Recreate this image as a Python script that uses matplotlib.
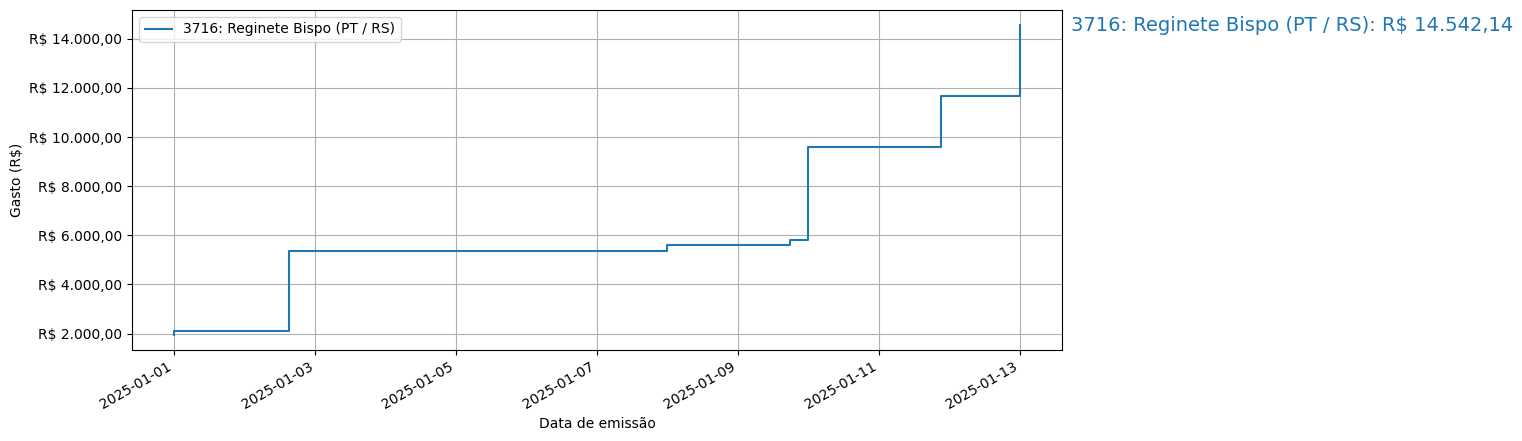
import numpy as np
import pandas as pd
import matplotlib
matplotlib.use("Agg")
import matplotlib.pyplot as plt
import matplotlib.dates as mdates
import matplotlib.ticker as mticker
import matplotlib.transforms as mtransforms

# cumulative spending
datas = pd.to_datetime([
    "2025-01-01 00:00", "2025-01-01 00:00", "2025-01-02 15:10",
    "2025-01-08 00:00", "2025-01-09 17:45", "2025-01-10 00:00",
    "2025-01-11 21:20", "2025-01-13 00:00",
])
gasto_acum = [1960.0, 2120.0, 5360.0, 5600.0, 5810.0, 9600.0, 11670.0, 14542.14]
rotulo = "3716: Reginete Bispo (PT / RS)"


def brl(v, pos=None):
    s = f"{v:,.2f}".replace(",", "X").replace(".", ",").replace("X", ".")
    return f"R$ {s}"


fig = plt.figure(figsize=(15.22, 4.41), dpi=100)
ax = fig.add_axes([132 / 1522, 1 - 350 / 441, 930 / 1522, 340 / 441])

ax.plot(datas, gasto_acum, drawstyle="steps-post", color="C0", label=rotulo)

trans = mtransforms.blended_transform_factory(ax.transAxes, ax.transData)
ax.text(1.01, gasto_acum[-1], f"{rotulo}: {brl(gasto_acum[-1])}",
        transform=trans, color="C0", fontsize=14, va="center", ha="left")

ax.yaxis.set_major_formatter(mticker.FuncFormatter(brl))
ax.xaxis.set_major_locator(mdates.DayLocator(interval=2))
ax.xaxis.set_major_formatter(mdates.DateFormatter("%Y-%m-%d"))
for lbl in ax.get_xticklabels():
    lbl.set_rotation(30)
    lbl.set_ha("right")

ax.set_xlabel("Data de emissão")
ax.set_ylabel("Gasto (R$)")
ax.grid(True)
ax.legend(loc="upper left")

fig.savefig("out.png", dpi=100)
